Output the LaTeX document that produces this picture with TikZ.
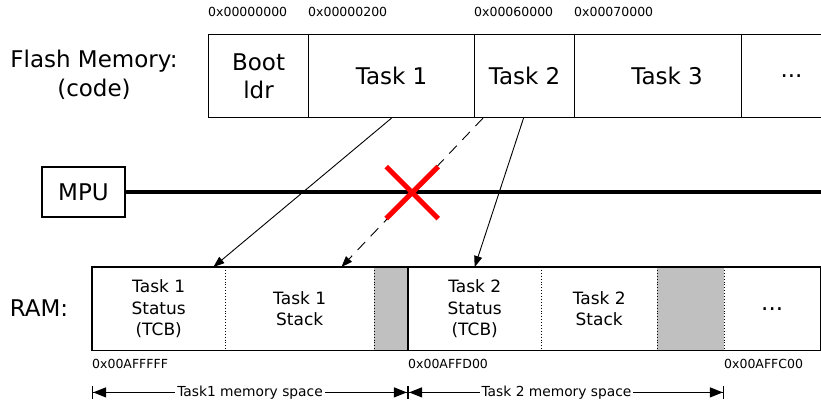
\documentclass[tikz,border=0pt]{standalone}
\usepackage{fontspec}
\setmainfont{DejaVu Sans}
\usetikzlibrary{arrows.meta, positioning, calc, shapes.misc}
\definecolor{slotgray}{RGB}{192,192,192}
\definecolor{denyred}{RGB}{255,0,0}

\tikzset{
  bigtext/.style={font=\fontsize{23}{28.5}\selectfont, align=center},
  flashcell/.style={draw, line width=1.1pt, minimum height=83pt, anchor=north west, inner sep=0pt, bigtext},
  ramcell/.style={minimum height=83pt, anchor=north west, inner sep=0pt, align=center, font=\fontsize{17}{21.5}\selectfont},
  addr/.style={font=\fontsize{12.5}{14}\selectfont, inner sep=0pt, anchor=base west},
  dimtext/.style={font=\fontsize{13.8}{16}\selectfont, fill=white, inner sep=2pt},
  maparrow/.style={line width=0.9pt, -{Triangle[length=11pt, width=8pt]}},
  dimline/.style={line width=1.1pt, {Bar[width=13pt]Triangle[length=13pt, width=10pt]}-{Triangle[length=13pt, width=10pt]Bar[width=13pt]}},
  deny/.style={cross out, draw=denyred, solid, line width=5pt, minimum size=47pt, inner sep=0pt}
}

\begin{document}
\begin{tikzpicture}[x=1pt, y=1pt]
    \useasboundingbox (0,0) rectangle (821,400);
    \clip (0,0) rectangle (821,400);

    % Flash memory row
    \node[bigtext] (flashlbl) at (94,325) {Flash Memory:\\(code)};
    \foreach \nm/\x/\w/\txt in {boot/208/100/{Boot\\ldr}, task1/308/166/{Task 1}, task2/474/100/{Task 2}, task3/574/167/{\hspace*{18pt}Task 3}, more/741/100/{...}} {
        \node[flashcell, minimum width=\w pt] (\nm) at (\x,366) {\txt};
    }
    \node[addr] (fa0) at ([yshift=17pt]boot.north west) {0x00000000};
    \node[addr] (fa1) at ([yshift=17pt]task1.north west) {0x00000200};
    \node[addr] (fa2) at ([yshift=17pt]task2.north west) {0x00060000};
    \node[addr] (fa3) at ([yshift=17pt]task3.north west) {0x00070000};

    % MPU and bus
    \node[draw, line width=1.1pt, minimum width=83pt, minimum height=50pt, inner sep=0pt, bigtext] (mpu) at (83.5,208) {MPU};
    \coordinate (busend) at (821,208);
    \draw[line width=4pt] (mpu.east) -- (busend);

    % RAM row
    \node[bigtext] (ramlbl) at (39,92) {RAM:};
    \foreach \nm/\x/\w/\txt in {tcb1/92/133/{Task 1\\Status\\(TCB)}, stack1/225/149/{Task 1\\Stack}, tcb2/408/133/{Task 2\\Status\\(TCB)}, stack2/541/116/{Task 2\\Stack}} {
        \node[ramcell, minimum width=\w pt] (\nm) at (\x,133) {\txt};
    }
    \node[ramcell, fill=slotgray, minimum width=34pt] (gap1) at (374,133) {};
    \node[ramcell, fill=slotgray, minimum width=67pt] (gap2) at (657,133) {};
    \node[ramcell, minimum width=96pt, bigtext] (ramdots) at (724,133) {...};
    \draw[line width=1.1pt] (tcb1.north west) rectangle (ramdots.south east);
    \draw[line width=1.1pt] (tcb2.north west) -- (tcb2.south west);
    \foreach \nm in {tcb1, stack1, tcb2, stack2, gap2} {
        \draw[line width=0.9pt, dotted] (\nm.north east) -- (\nm.south east);
    }
    \node[addr] (ra0) at ([yshift=-18pt]tcb1.south west) {0x00AFFFFF};
    \node[addr] (ra1) at ([yshift=-18pt]tcb2.south west) {0x00AFFD00};
    \node[addr] (ra2) at ([yshift=-18pt]ramdots.south west) {0x00AFFC00};

    % Memory space spans
    \coordinate (sp0) at ([yshift=-42pt]tcb1.south west);
    \coordinate (sp1) at ([yshift=-42pt]tcb2.south west);
    \coordinate (sp2) at ([yshift=-42pt]ramdots.south west);
    \draw[dimline] (sp0) -- node[dimtext] (sp0lbl) {Task1 memory space} (sp1);
    \draw[dimline] (sp1) -- node[dimtext, pos=0.47] (sp1lbl) {Task 2 memory space} (sp2);

    % Code to RAM mappings
    \coordinate (dsrc) at ([xshift=9pt]task2.south west);
    \coordinate (ddst) at ([xshift=-33pt]stack1.north east);
    \draw[maparrow] (task1.south) -- ([xshift=-12pt]tcb1.north east);
    \draw[maparrow, dash pattern=on 11pt off 8pt] (dsrc) -- (ddst);
    \draw[maparrow] ([xshift=-1pt]task2.south) -- (tcb2.north);
    \node[deny] (nogo) at ($(dsrc)!0.5!(ddst)$) {};
\end{tikzpicture}
\end{document}
